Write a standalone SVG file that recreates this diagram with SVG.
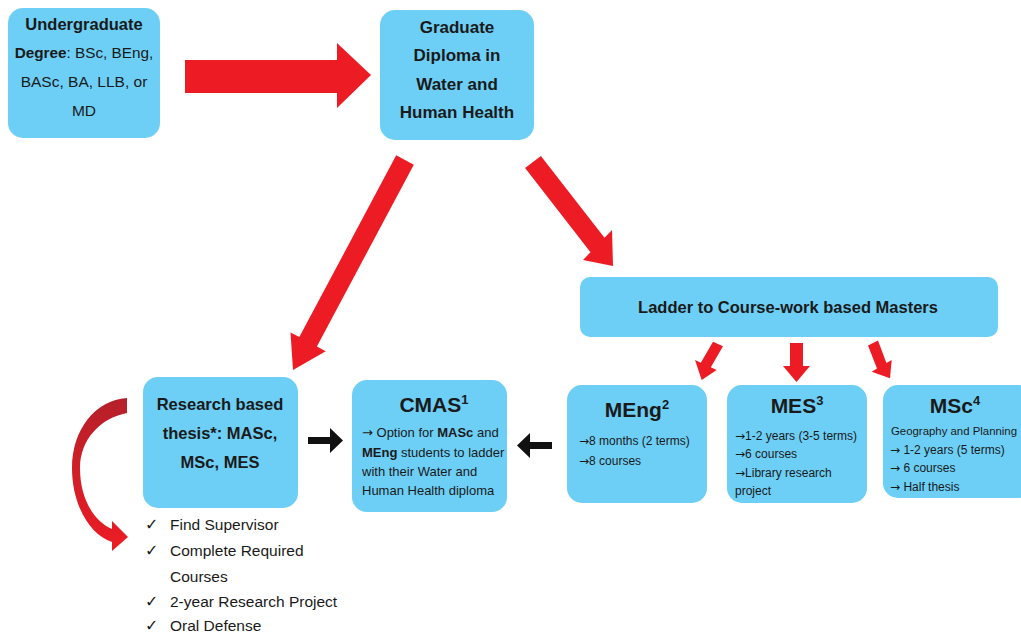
<svg xmlns="http://www.w3.org/2000/svg" width="1021" height="633" viewBox="0 0 1021 633">
<defs>
<style>
.box{fill:#6DCFF6;}
.t{font-family:"Liberation Sans",Arial,sans-serif;fill:#1a1a1a;}
.b{font-weight:bold;}
.a{font-family:"DejaVu Sans",sans-serif;}
.red{fill:#ED1C24;}
.blk{fill:#111;}
.chk{font-family:"DejaVu Sans",sans-serif;fill:#1a1a1a;font-size:16px;}
</style>
<linearGradient id="cg" x1="0" y1="0" x2="0" y2="1">
<stop offset="0" stop-color="#B5202A"/>
<stop offset="1" stop-color="#ED1C24"/>
</linearGradient>
</defs>
<rect width="1021" height="633" fill="#ffffff"/>

<g id="connectors">
<polygon class="red" points="185,60 337,60 337,43 371,75 337,108 337,93 185,93"/>
<polygon class="red" points="396.2,155.3 413.8,164.7 316.9,346.5 325.7,351.2 293,370 290.5,332.4 299.3,337.1"/>
<polygon class="red" points="525.1,168.1 540.9,155.9 604.5,237.8 612,230 613,266 583,260 590.5,252.2"/>
<polygon class="red" points="713,341.8 723,346.2 710.8,367.2 716.7,370 701.7,380 695,360 700.8,362.8"/>
<polygon class="red" points="790,343 803,343 803,366 810,366 796.5,382 783,366 790,366"/>
<polygon class="red" points="868,345.4 878,340.6 886.4,363 891.7,360 890,378.3 871.7,371.7 877,368.6"/>
<path fill="url(#cg)" d="M127 398 C95 400 72 430 72 468 C72 505 90 535 112 542 L112 551 L128 537 L112 521 L112 529 C95 522 80 500 80 468 C80 440 100 418 127 413 Z"/>
<polygon class="blk" points="308,437 330,437 330,428 343,440.5 330,453 330,444 308,444"/>
<polygon class="blk" points="552,442 530,442 530,433 517,445.5 530,458 530,449 552,449"/>
</g>

<g id="undergrad">
<rect class="box" x="8" y="8" width="152" height="130" rx="15"/>
<text class="t b" x="84" y="30" font-size="16.5" text-anchor="middle">Undergraduate</text>
<text class="t" x="84" y="58" font-size="15.3" text-anchor="middle"><tspan class="b">Degree</tspan>: BSc, BEng,</text>
<text class="t" x="84" y="87" font-size="15.5" text-anchor="middle">BASc, BA, LLB, or</text>
<text class="t" x="84" y="116" font-size="15.5" text-anchor="middle">MD</text>
</g>

<g id="diploma">
<rect class="box" x="380" y="10" width="154" height="130" rx="15"/>
<text class="t b" x="457" y="33" font-size="17" text-anchor="middle">Graduate</text>
<text class="t b" x="457" y="61" font-size="17" text-anchor="middle">Diploma in</text>
<text class="t b" x="457" y="90" font-size="17" text-anchor="middle">Water and</text>
<text class="t b" x="457" y="118" font-size="17" text-anchor="middle">Human Health</text>
</g>

<g id="ladder">
<rect class="box" x="580" y="277" width="418" height="60" rx="10"/>
<text class="t b" x="788" y="313" font-size="16.5" text-anchor="middle">Ladder to Course-work based Masters</text>
</g>

<g id="research">
<rect class="box" x="143" y="377" width="155" height="131" rx="15"/>
<text class="t b" x="220" y="410" font-size="16.5" text-anchor="middle">Research based</text>
<text class="t b" x="220" y="439" font-size="16.5" text-anchor="middle">thesis*: MASc,</text>
<text class="t b" x="220" y="468" font-size="16.5" text-anchor="middle">MSc, MES</text>
</g>

<g id="checklist">
<text class="chk" x="145" y="530">✓</text>
<text class="t" x="170" y="530" font-size="15.5">Find Supervisor</text>
<text class="chk" x="145" y="556">✓</text>
<text class="t" x="170" y="556" font-size="15.5">Complete Required</text>
<text class="t" x="170" y="582" font-size="15.5">Courses</text>
<text class="chk" x="145" y="607">✓</text>
<text class="t" x="170" y="607" font-size="15.5">2-year Research Project</text>
<text class="chk" x="145" y="631">✓</text>
<text class="t" x="170" y="631" font-size="15.5">Oral Defense</text>
</g>

<g id="cmas">
<rect class="box" x="352" y="380" width="155" height="132" rx="15"/>
<text class="t b" x="434" y="412" font-size="21" text-anchor="middle">CMAS<tspan font-size="13" dy="-8">1</tspan></text>
<text class="t" x="362" y="437" font-size="13"><tspan class="a">→</tspan> Option for <tspan class="b">MASc</tspan> and</text>
<text class="t" x="362" y="457" font-size="13"><tspan class="b">MEng</tspan> students to ladder</text>
<text class="t" x="362" y="476" font-size="13">with their Water and</text>
<text class="t" x="362" y="495" font-size="13">Human Health diploma</text>
</g>

<g id="meng">
<rect class="box" x="567" y="385" width="140" height="118" rx="15"/>
<text class="t b" x="637" y="417" font-size="21" text-anchor="middle">MEng<tspan font-size="13" dy="-8">2</tspan></text>
<text class="t" x="579" y="445" font-size="12"><tspan class="a">→</tspan>8 months (2 terms)</text>
<text class="t" x="579" y="465" font-size="12"><tspan class="a">→</tspan>8 courses</text>
</g>

<g id="mes">
<rect class="box" x="727" y="385" width="140" height="118" rx="15"/>
<text class="t b" x="797" y="413" font-size="21" text-anchor="middle">MES<tspan font-size="13" dy="-8">3</tspan></text>
<text class="t" x="735" y="440" font-size="12"><tspan class="a">→</tspan>1-2 years (3-5 terms)</text>
<text class="t" x="735" y="458" font-size="12"><tspan class="a">→</tspan>6 courses</text>
<text class="t" x="735" y="477" font-size="12"><tspan class="a">→</tspan>Library research</text>
<text class="t" x="735" y="495" font-size="12">project</text>
</g>

<g id="msc">
<rect class="box" x="883" y="385" width="150" height="113" rx="15"/>
<text class="t b" x="955" y="413" font-size="21" text-anchor="middle">MSc<tspan font-size="13" dy="-8">4</tspan></text>
<text class="t" x="891" y="435" font-size="11.4">Geography and Planning</text>
<text class="t" x="890" y="454" font-size="12"><tspan class="a">→</tspan> 1-2 years (5 terms)</text>
<text class="t" x="890" y="472" font-size="12"><tspan class="a">→</tspan> 6 courses</text>
<text class="t" x="890" y="491" font-size="12"><tspan class="a">→</tspan> Half thesis</text>
</g>
</svg>
